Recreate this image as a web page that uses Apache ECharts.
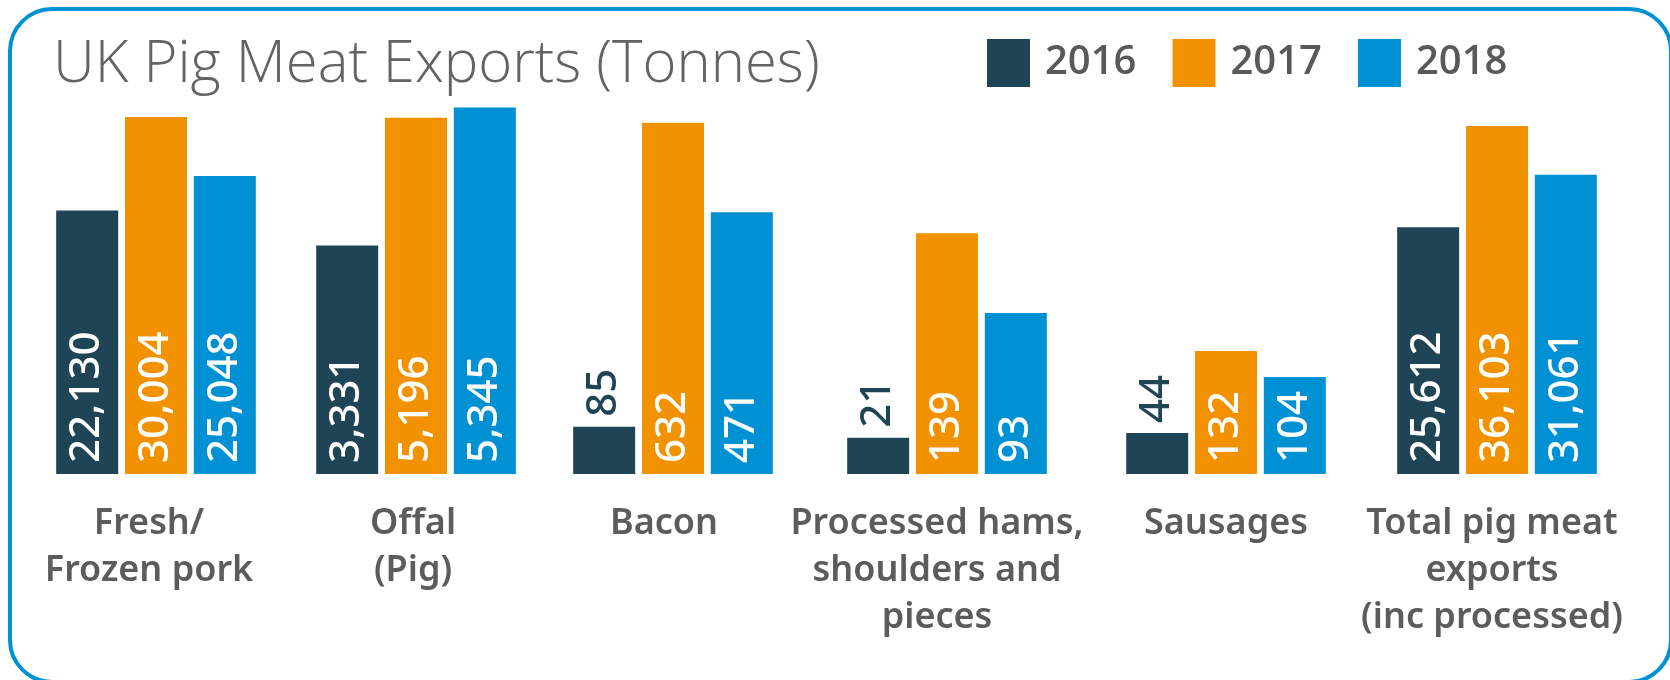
<!DOCTYPE html>
<html>
<head>
<meta charset="utf-8">
<script src="https://cdn.jsdelivr.net/npm/echarts@6/dist/echarts.min.js"></script>
<style>
html,body{margin:0;padding:0;background:#fff;}
#chart{width:1670px;height:680px;}
</style>
</head>
<body>
<div id="chart"></div>
<script>
// ---- data ----
const categories = [
  'Fresh/\nFrozen pork',
  'Offal\n(Pig)',
  'Bacon',
  'Processed hams,\nshoulders and\npieces',
  'Sausages',
  'Total pig meat\nexports\n(inc processed)'
];
const years = ['2016', '2017', '2018'];
const values2016 = [22130, 3331, 85, 21, 44, 25612];
const values2017 = [30004, 5196, 632, 139, 132, 36103];
const values2018 = [25048, 5345, 471, 93, 104, 31061];

// ---- layout / styling ----
const seriesValues = [values2016, values2017, values2018];
const colors = ['#1F4455', '#F29200', '#0091D5'];
const groupCenters = [156, 416, 673, 947, 1226, 1497];
const labelShift = [-7, -3, -9, -10, 0, -5];
const axisMax = [31423, 5453, 673, 216, 401.5, 38808]; // each group drawn on its own scale
const FONT = '"Noto Sans", "Open Sans", sans-serif';

const grids = [], xAxes = [], yAxes = [], series = [];
categories.forEach((cat, i) => {
  grids.push({left: groupCenters[i] - 120, width: 240, top: 100, bottom: 206});
  const s = labelShift[i];
  xAxes.push({
    gridIndex: i, type: 'category', data: [cat],
    axisLine: {show: false}, axisTick: {show: false}, splitLine: {show: false},
    axisLabel: {interval: 0, margin: 26, fontSize: 36, lineHeight: 47, fontWeight: 600,
                color: '#5C5C5C', fontFamily: FONT,
                padding: [0, s < 0 ? -2 * s : 0, 0, s > 0 ? 2 * s : 0]}
  });
  yAxes.push({gridIndex: i, type: 'value', min: 0, max: axisMax[i], show: false});
  years.forEach((y, j) => {
    const v = seriesValues[j][i];
    const outside = v / axisMax[i] < 0.2;
    series.push({
      type: 'bar', name: y, xAxisIndex: i, yAxisIndex: i,
      data: [v], barWidth: 62, barGap: '11%',
      itemStyle: {color: colors[j]},
      label: {
        show: true, rotate: 90, align: 'left', verticalAlign: 'middle',
        position: outside ? 'top' : 'insideBottom',
        distance: outside ? 10 : 11,
        color: outside ? colors[0] : '#FFFFFF',
        fontSize: 42, fontWeight: 500, fontFamily: FONT,
        formatter: p => p.value.toLocaleString('en-US')
      }
    });
  });
});

const chart = echarts.init(document.getElementById('chart'), null, {renderer: 'canvas'});
chart.setOption({
  animation: false,
  backgroundColor: '#ffffff',
  title: {
    text: 'UK Pig Meat Exports (Tonnes)', left: 48, top: 31,
    textStyle: {fontSize: 58, fontWeight: 300, color: '#636363', fontFamily: '"Open Sans", "Noto Sans", sans-serif'}
  },
  legend: {
    data: years, left: 982, top: 34, itemWidth: 43, itemHeight: 48, itemGap: 36,
    icon: 'rect', selectedMode: false,
    textStyle: {fontSize: 40, fontWeight: 600, color: '#595959', fontFamily: '"Open Sans", "Noto Sans", sans-serif', padding: [0, 0, 0, 10]}
  },
  graphic: [{
    type: 'rect', silent: true, z: -1,
    shape: {x: 10, y: 9, width: 1661, height: 673, r: 42},
    style: {fill: null, stroke: '#0091D5', lineWidth: 4}
  }],
  grid: grids, xAxis: xAxes, yAxis: yAxes, series: series
});
</script>
</body>
</html>
